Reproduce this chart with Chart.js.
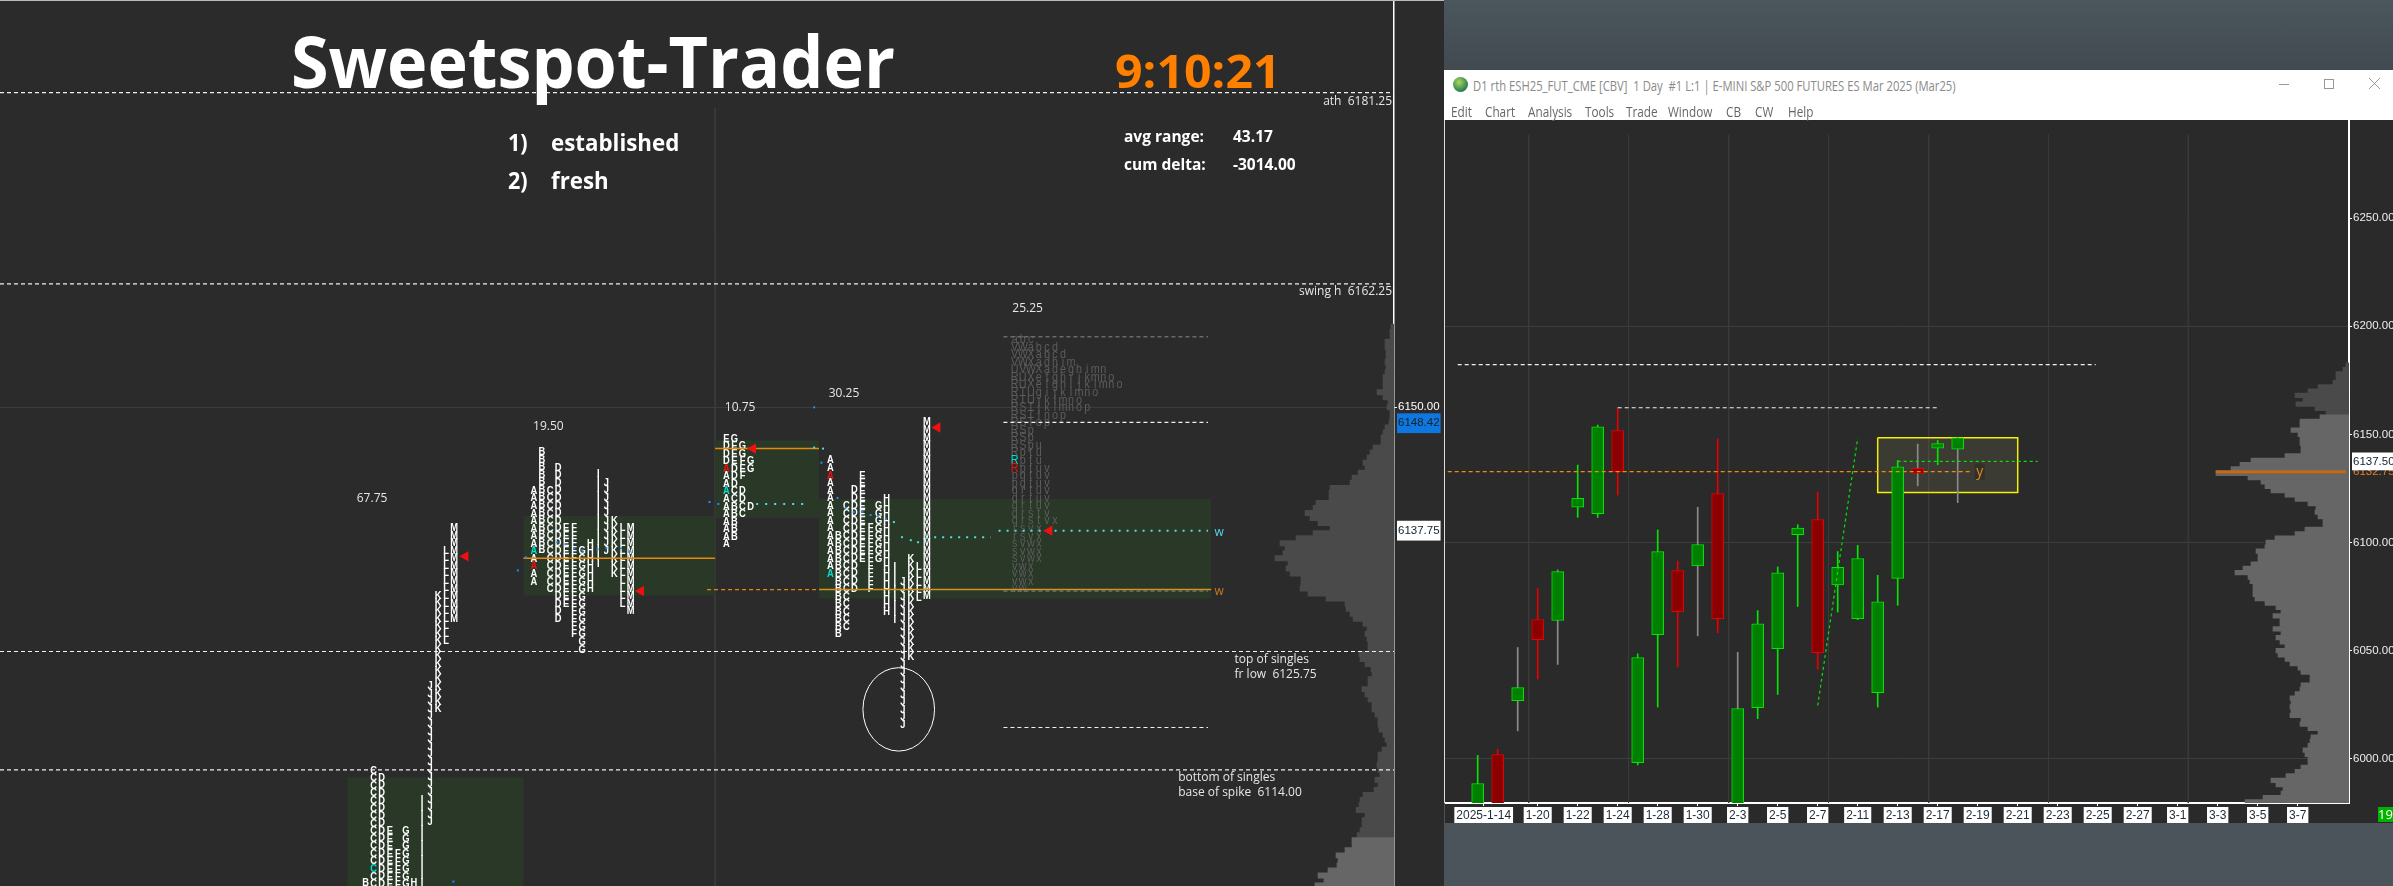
<!DOCTYPE html>
<html>
<head>
<meta charset="utf-8">
<script src="https://cdn.jsdelivr.net/npm/chart.js@4"></script>
<style>
html, body { margin: 0; padding: 0; width: 2393px; height: 886px; overflow: hidden; background: #4b535b; font-family: "Open Sans", sans-serif; }
div, canvas { position: absolute; }
#left { left: 0; top: 0; width: 1444px; height: 886px; background: #2b2b2b; }
#topline { left: 0; top: 0; width: 1444px; height: 1px; background: #bbb; }
#stripe { left: 1444px; top: 0; width: 949px; height: 70px; background: linear-gradient(#4b565d, #424a50); }
#win { left: 1444px; top: 70px; width: 949px; height: 50px; background: #fff; }
#winedge { left: 1444px; top: 120px; width: 1px; height: 683px; background: #ddd; }
#rightbg { left: 1445px; top: 120px; width: 948px; height: 703px; background: #2a2a2a; }
.txt { white-space: pre; line-height: 1; transform-origin: left center; color: #fff; }
.menu { top: 102px; font-size: 14px; color: #666; white-space: pre; transform: scaleX(.84); transform-origin: left center; }
</style>
</head>
<body>
<div id="left"></div>
<div id="stripe"></div>
<div id="win"></div>
<div id="rightbg"></div>
<div id="winedge"></div>
<canvas id="tpoChart" width="1444" height="886" style="left:0;top:0"></canvas>
<canvas id="dailyChart" width="948" height="703" style="left:1445px;top:120px"></canvas>
<div id="topline"></div>

<div class="txt" style="left:291px;top:25px;font-size:71px;font-weight:700;transform:scaleX(.962)">Sweetspot-Trader</div>
<div class="txt" style="left:1115px;top:47px;font-size:46px;font-weight:700;color:#ff7f00;transform:scaleX(1.05)">9:10:21</div>
<div class="txt" style="left:508px;top:130px;font-size:24px;font-weight:700;transform:scaleX(.9)">1)</div>
<div class="txt" style="left:551px;top:130px;font-size:24px;font-weight:700;transform:scaleX(.93)">established</div>
<div class="txt" style="left:508px;top:168px;font-size:24px;font-weight:700;transform:scaleX(.9)">2)</div>
<div class="txt" style="left:551px;top:168px;font-size:24px;font-weight:700;transform:scaleX(.93)">fresh</div>
<div class="txt" style="left:1124px;top:128px;font-size:16px;font-weight:700;transform:scaleX(.97)">avg range:</div>
<div class="txt" style="left:1233px;top:128px;font-size:16px;font-weight:700;transform:scaleX(.97)">43.17</div>
<div class="txt" style="left:1124px;top:156px;font-size:16px;font-weight:700;transform:scaleX(.97)">cum delta:</div>
<div class="txt" style="left:1233px;top:156px;font-size:16px;font-weight:700;transform:scaleX(.97)">-3014.00</div>

<div style="left:1453px;top:77px;width:15px;height:15px;border-radius:50%;background:radial-gradient(circle at 40% 35%, #a8d860, #3a8a50 60%, #1f4f7f)"></div>
<div class="menu" style="left:1473px;top:76px;color:#8a8a8a;font-size:14px;transform:scaleX(.804)">D1 rth ESH25_FUT_CME [CBV]  1 Day  #1 L:1 | E-MINI S&amp;P 500 FUTURES ES Mar 2025 (Mar25)</div>
<div class="menu" style="left:1451px">Edit</div>
<div class="menu" style="left:1485px">Chart</div>
<div class="menu" style="left:1528px">Analysis</div>
<div class="menu" style="left:1585px">Tools</div>
<div class="menu" style="left:1626px">Trade</div>
<div class="menu" style="left:1668px">Window</div>
<div class="menu" style="left:1726px">CB</div>
<div class="menu" style="left:1755px">CW</div>
<div class="menu" style="left:1788px">Help</div>
<div style="left:2279px;top:84px;width:10px;height:1px;background:#999"></div>
<div style="left:2324px;top:79px;width:8px;height:8px;border:1px solid #999"></div>
<svg style="position:absolute;left:2369px;top:78px" width="11" height="11"><path d="M0 0L11 11M11 0L0 11" stroke="#999" fill="none"/></svg>
<div class="txt" style="left:2378px;top:807px;width:15px;height:15px;background:#00b400;font-size:13px;line-height:15px">19</div>

<script>
// ---- market profile sessions: [letter, top price, rows]
const sessionOne = [["B",6102.75,3],["C",6113.9,17],["D",6113.2,16],["E",6107.9,9],["F",6105.6,6],["G",6107.9,9],["H",6102.75,2],["I",6111.0,13],["J",6122.3,19],["K",6131.27,16],["L",6135.76,13],["M",6138.0,13]];
const sessionTwo = [["A",6141.7,13],["B",6145.55,14],["C",6141.7,14],["D",6144.0,21],["E",6138.0,11],["F",6138.0,15],["G",6135.7,14],["H",6136.45,7],["I",6143.4,13],["J",6142.5,10],["K",6138.7,8],["L",6138.0,11],["M",6138.0,12]];
const sessionFour = [["A",6144.73,16],["B",6137.2,14],["C",6140.2,17],["D",6141.75,14],["E",6143.2,12],["F",6138.0,9],["G",6140.2,8],["H",6140.9,16],["I",6134.1,8],["J",6132.7,20],["K",6134.97,14],["L",6134.1,5],["M",6148.5,24]];
// packed sessions, one string per price row
const sessionThreeTop = 6146.9;
const sessionThree = ["EG","DEG","DEG","DEFG","ADEG","ADF","AD","ACD","ACD","ABCD","ABC","AB","AB","AB","A"];
const sessionFiveTop = 6156.7;
const sessionFive = ["abc","VWabcd","VWXabcd","VWXadhim","UVWXadeghimn","RUXefghijkmno","RUXefghijklmno","RTUgijklmno","RTUjklmno","RSTjklmnop","RSTlnop","RSTop","RSp","RSp","RSpu","Rptu","Rptu","Rptuv","pqtuv","pqtuv","qrtuv","qrtuv","qrtuv","qrstv","qrstvx","rsvx","rsvx","svwx","svwx","svwx","vwx","vwx","vwx","vw"];
const sessionColumns = [44.4, 66.3, 90.2, 103.1, 126];
// coloured open prints: session, letter, row
const cyanPrints = [[0,"C",13],[1,"A",8],[2,"A",7],[3,"A",15],[4,"R",16]];
const redPrints = [[1,"A",10],[2,"A",4],[3,"A",2],[4,"R",17]];

const valueAreas = [[43.1,65,6101,6113.24],[65,88.8,6131.3,6139.2],[88.8,101.7,6139,6146.74],[101.7,150.4,6131.0,6140.9]];
const fullLevels = [6181.25,6162.25,6125.75,6114];
const shortWhiteLevels = [6148.5,6118.2];
const shortGrayLevels = [6157,6131.75];
const redMarkers = [[57.8,6135.2],[79.6,6131.75],[93.5,6145.9],[116.4,6148],[130.3,6137.75]];
const blueDots = [[64.3,6133.8],[65.3,6135.1],[69.2,6136.6],[70.2,6136.4],[71.3,6136],[72.3,6135.8],[74.2,6135.9],[75.3,6136],[77.1,6136],[78.2,6135.7],[88.1,6140.6],[89.2,6140.4],[101.1,6150],[102,6144.5],[104,6141],[56.3,6102.9],[105,6140],[106,6139.6],[107.1,6139.6],[108.1,6139.3],[109,6139.2],[110,6138.9]];
const cyanDots = [[101.1,6146],[102.2,6145.9],[111,6138.6],[112,6137.1],[113.1,6136.8],[114,6136.6],[115,6137]];
const tpoTicks = [6150,6148.42,6137.75];
const rangeLabels = [["67.75",46.2,6140.9],["19.50",68.1,6148.1],["10.75",91.9,6150],["30.25",104.8,6151.4],["25.25",127.6,6159.8]];
const noteLabels = [["top of singles",153.3,6124.9],["fr low  6125.75",153.3,6123.45],["bottom of singles",146.3,6113.2],["base of spike  6114.00",146.3,6111.7]];
const edgeLabels = [["ath  6181.25",6180.4],["swing h  6162.25",6161.45]];

// composite volume next to the profile, from 6158 down in half points
const leftVolume = [3,4,4,9,9,8,8,9,8,9,11,11,11,17,11,6,7,4,4,5,9,11,13,13,21,24,27,31,29,36,42,44,64,65,65,78,81,89,84,76,64,81,98,114,109,111,119,106,108,104,93,93,94,86,68,49,48,44,41,31,27,29,27,26,26,35,34,29,23,22,26,26,32,29,26,22,22,19,16,16,15,11,9,7,12,16,16,17,16,14,19,16,20,31,34,35,38,29,32,32,34,37,42,42,49,58,56,57,66,76,70,79];
const leftLevels = leftVolume.map((v, i) => 6158 - i * 0.5);

// ---- daily chart
const candleOpen = [5964.9,6001.9,6026.8,6064.3,6063.9,6116.3,6113.3,6151.8,5998.1,6057.3,6087,6089.2,6122.6,5965,6023.6,6050.9,6103.6,6110.6,6080.4,6064.8,6030.5,6083.4,6134.3,6143.6,6143.1];
const candleHigh = [6001.5,6004.4,6051.4,6078.7,6087.3,6135.8,6154.3,6162.3,6048.5,6105.8,6091.4,6116.3,6147.9,6049.2,6068.5,6088.7,6108.2,6123.3,6095.8,6098.7,6084.8,6137.9,6145.5,6147.2,6148.7];
const candleLow = [5957.6,5957.6,6012.9,6036.8,6043.6,6111.6,6111.6,6121.9,5997.1,6023.9,6042.4,6056.8,6058.2,5958,6018.5,6029.7,6070.4,6041.4,6067.8,6064.3,6023.9,6070.9,6126.2,6136,6118.4];
const candleClose = [5988.5,5964.9,6032.9,6055.1,6086.5,6120.4,6153.5,6132.8,6046.8,6095.8,6068,6099,6064.8,6023.2,6062.4,6086,6106.7,6049,6088.5,6092.6,6072.6,6135,6131.9,6145.7,6148.4];
const grayWickDays = [2,4,11,13,22,24];
const dateTickSlots = [0.3,3,5,7,9,11,13,15,17,19,21,23,25,27,29,31,33,35,37,39,41];
const dateTickLabels = ["2025-1-14","1-20","1-22","1-24","1-28","1-30","2-3","2-5","2-7","2-11","2-13","2-17","2-19","2-21","2-23","2-25","2-27","3-1","3-3","3-5","3-7"];
const dailyTicks = [6250,6200,6150,6100,6050,6000,6132.75,6137.5];
const dailyGridTicks = [6200,6100,6000];
const dailyVerticals = [2.55,7.54,12.55,17.54,22.55,28.54,35.53];
const rightVolume = [3,6,13,13,16,31,41,54,46,53,34,23,29,49,49,58,51,49,49,48,48,64,98,109,118,133,101,88,84,78,64,54,41,33,34,31,26,26,44,54,74,83,84,93,91,91,98,106,114,101,99,96,96,96,94,84,73,68,76,69,69,76,68,73,69,64,73,71,64,59,51,48,39,39,48,49,54,59,58,59,58,59,48,49,41,31,38,39,41,46,44,41,41,48,54,63,78,73,66,68,86,104];
const rightLevels = rightVolume.map((v, i) => 6182 - i * 2);

const GREEN_LINE = "#00e600", RED_LINE = "#e60000";
const GREEN_BODY = "#008000", RED_BODY = "#8b0000";
const TEXT_FONT = '"Open Sans"';
const TICK_FONT = '"Liberation Sans"';

function segment(x0, y0, x1, y1, color, width, dash, order) {
    return { type: "scatter", showLine: true, pointRadius: 0, borderColor: color, borderWidth: width, borderDash: dash || [],
        data: [{x: x0, y: y0}, {x: x1, y: y1}], order: order === undefined ? 3 : order };
}
function box(x0, x1, lo, hi, fillColor, lineColor, order) {
    return { type: "scatter", showLine: true, pointRadius: 0, fill: "shape", backgroundColor: fillColor,
        borderColor: lineColor, borderWidth: lineColor === "transparent" ? 0 : 1.5,
        data: [{x: x0, y: hi}, {x: x1, y: hi}, {x: x1, y: lo}, {x: x0, y: lo}, {x: x0, y: hi}], order: order };
}
function dots(points, color, order) {
    return { type: "scatter", pointRadius: 1.4, pointStyle: "rect", backgroundColor: color, borderWidth: 0,
        data: points.map(p => ({x: p[0], y: p[1]})), order: order };
}
function volumeBars(levels, values, split, thick, above) {
    return { type: "bar", indexAxis: "y", xAxisID: "xVol", yAxisID: "y", grouped: false, barThickness: thick, borderWidth: 0, order: 30,
        backgroundColor: c => ((c.raw.y > split) === above ? "#4a4a4a" : "#666666"),
        data: values.map((v, i) => ({x: v, y: levels[i]})) };
}
function fixedTicks(list) {
    return s => { s.ticks = list.map(v => ({value: v})); };
}
// the labels must not push the plot area in
function noPadding(s) {
    s.paddingLeft = s.paddingRight = s.paddingTop = s.paddingBottom = 0;
}

const tpoPlugin = {
    id: "tpoText",
    afterDatasetDraw(chart, args) {
        if (chart.data.datasets[args.index].label !== "tpo") return;
        const ctx = chart.ctx, xs = chart.scales.x, ys = chart.scales.y;
        const printColor = (s, letter, row, base) => {
            if (cyanPrints.some(p => p[0] === s && p[1] === letter && p[2] === row)) return "#00e0d0";
            if (redPrints.some(p => p[0] === s && p[1] === letter && p[2] === row)) return "#f01010";
            return base;
        };
        const letter = (ch, col, price, squeeze) => {
            ctx.save();
            ctx.translate(xs.getPixelForValue(col), ys.getPixelForValue(price));
            ctx.scale(squeeze, 1);
            ctx.fillText(ch, 0, 0);
            ctx.restore();
        };
        ctx.save();
        ctx.textAlign = "center";
        ctx.textBaseline = "middle";
        ctx.font = "bold 11px " + TICK_FONT;
        [sessionOne, sessionTwo, null, sessionFour].forEach((session, s) => {
            if (!session) return;
            session.forEach(col => {
                const c = sessionColumns[s] + "ABCDEFGHIJKLM".indexOf(col[0]);
                for (let r = 0; r < col[2]; r++) {
                    ctx.fillStyle = printColor(s, col[0], r, "#ffffff");
                    letter(col[0], c, col[1] - r * 0.75, 0.85);
                }
            });
        });
        sessionThree.forEach((row, r) => {
            [...row].forEach((ch, c) => {
                ctx.fillStyle = printColor(2, ch, r, "#ffffff");
                letter(ch, sessionColumns[2] + c, sessionThreeTop - r * 0.75, 0.85);
            });
        });
        ctx.font = "12px " + TICK_FONT;
        sessionFive.forEach((row, r) => {
            [...row].forEach((ch, c) => {
                ctx.fillStyle = printColor(4, ch, r, "#5c5c5c");
                letter(ch, sessionColumns[4] + c, sessionFiveTop - r * 0.75, 0.9);
            });
        });
        ctx.restore();
    },
    afterDatasetsDraw(chart) {
        const ctx = chart.ctx, xs = chart.scales.x, ys = chart.scales.y;
        ctx.save();
        ctx.textBaseline = "middle";
        ctx.fillStyle = "#e6e6e6";
        ctx.font = "12px " + TEXT_FONT;
        ctx.textAlign = "center";
        rangeLabels.forEach(l => ctx.fillText(l[0], xs.getPixelForValue(l[1]), ys.getPixelForValue(l[2])));
        ctx.textAlign = "left";
        noteLabels.forEach(l => ctx.fillText(l[0], xs.getPixelForValue(l[1]), ys.getPixelForValue(l[2])));
        ctx.textAlign = "right";
        edgeLabels.forEach(l => ctx.fillText(l[0], xs.right - 2, ys.getPixelForValue(l[1])));
        ctx.textAlign = "left";
        ctx.fillStyle = "#4fd8e8";
        ctx.fillText("w", xs.getPixelForValue(150.8), ys.getPixelForValue(6137.6));
        ctx.fillStyle = "#d07818";
        ctx.fillText("w", xs.getPixelForValue(150.8), ys.getPixelForValue(6131.7));
        // the j-tail ellipse
        ctx.strokeStyle = "#ffffff";
        ctx.lineWidth = 1;
        ctx.beginPath();
        ctx.ellipse(xs.getPixelForValue(111.6), ys.getPixelForValue(6120), 35.8, 41.7, 0, 0, Math.PI * 2);
        ctx.stroke();
        ctx.restore();
    }
};

new Chart(document.getElementById("tpoChart"), {
    type: "scatter",
    plugins: [tpoPlugin],
    data: { datasets: [
        volumeBars(leftLevels, leftVolume, 6107.3, 5.3, true),
        ...valueAreas.map(a => box(a[0], a[1], a[2], a[3], "#2a3828", "transparent", 20)),
        segment(88.8, 6179.7, 88.8, 6102, "#3c3c3c", 1, [], 25),
        { label: "tpo", type: "scatter", data: [], order: 10 },
        ...fullLevels.map(p => segment(0, p, 173.1, p, "#f0f0f0", 1.2, [4, 3])),
        ...shortWhiteLevels.map(p => segment(124.6, p, 150, p, "#f0f0f0", 1.2, [4, 3])),
        ...shortGrayLevels.map(p => segment(124.6, p, 150, p, "#8a8a8a", 1, [4, 3])),
        segment(65, 6135, 88.8, 6135, "#e8880a", 1.5),
        segment(88.8, 6145.9, 101.7, 6145.9, "#e8880a", 1.5),
        segment(87.8, 6131.9, 101.7, 6131.9, "#e8880a", 1.2, [4, 3]),
        segment(101.7, 6131.9, 150.4, 6131.9, "#d8901e", 1.5),
        segment(93.9, 6140.4, 100.1, 6140.4, "#4fe0e0", 2, [2, 7]),
        segment(116, 6137.1, 123, 6137.1, "#4fe0e0", 2, [2, 6]),
        segment(124, 6137.75, 150, 6137.75, "#4fe0e0", 2, [2, 6]),
        dots(blueDots, "#1e90ff", 2),
        dots(cyanDots, "#4fe0e0", 2),
        { type: "scatter", pointStyle: "triangle", rotation: 270, radius: 6, backgroundColor: "#f01010", borderWidth: 0,
          data: redMarkers.map(p => ({x: p[0], y: p[1]})), order: 1 }
    ] },
    options: {
        responsive: false, animation: false, devicePixelRatio: 1,
        layout: { padding: 0, autoPadding: false },
        plugins: { legend: { display: false }, tooltip: { enabled: false } },
        scales: {
            x: { type: "linear", display: false, offset: false, min: 0, max: 173.1, grid: { offset: false } },
            xVol: { type: "linear", display: false, offset: false, reverse: true, min: 0, max: 1394 },
            y: {
                type: "linear", position: "right", min: 6102.46, max: 6190.45, offset: false,
                afterBuildTicks: fixedTicks(tpoTicks),
                afterFit: s => { s.width = 50; noPadding(s); },
                border: { color: "#ffffff", width: 1.5 },
                grid: { offset: false, color: c => (c.tick && c.tick.value === 6150 ? "#3c3c3c" : "transparent"),
                        tickColor: c => (c.tick && c.tick.value === 6150 ? "#ffffff" : "transparent"), tickLength: 3 },
                ticks: {
                    autoSkip: false, padding: 1, font: { family: TICK_FONT, size: 11.5 },
                    showLabelBackdrop: true,
                    backdropPadding: { x: 1, y: 3 },
                    backdropColor: c => (c.tick.value === 6148.42 ? "#0f78e0" : c.tick.value === 6137.75 ? "#ffffff" : "transparent"),
                    color: c => (c.tick.value === 6150 ? "#ffffff" : "#10202c"),
                    callback: v => v.toFixed(2)
                }
            }
        }
    }
});

const yLabelPlugin = {
    id: "yLabel",
    afterDatasetsDraw(chart) {
        const ctx = chart.ctx, x = chart.scales.x.getPixelForValue(25.1), y = chart.scales.y.getPixelForValue(6132.8);
        ctx.save();
        ctx.fillStyle = "#333029";
        ctx.fillRect(x - 5, y - 8, 10, 16);
        ctx.fillStyle = "#e08a20";
        ctx.font = "14px " + TEXT_FONT;
        ctx.textAlign = "center";
        ctx.textBaseline = "middle";
        ctx.fillText("y", x, y);
        ctx.restore();
    }
};

new Chart(document.getElementById("dailyChart"), {
    type: "bar",
    plugins: [yLabelPlugin],
    data: { datasets: [
        ...dailyVerticals.map(d => segment(d, 6288.6, d, 5979, "#3a3a3a", 1, [], 40)),
        volumeBars(rightLevels, rightVolume, 6158.5, 4.6, true),
        box(20, 27, 6123.1, 6148.4, "rgba(235,235,150,.09)", "#f2f200", 20),
        { type: "bar", grouped: false, barThickness: 1, order: 12, borderWidth: 0,
          backgroundColor: c => (grayWickDays.includes(c.dataIndex) ? "#8a8a8a" : candleClose[c.dataIndex] > candleOpen[c.dataIndex] ? GREEN_LINE : RED_LINE),
          data: candleHigh.map((h, i) => ({x: i, y: [candleLow[i], h]})) },
        { type: "bar", grouped: false, barThickness: 12, order: 11, borderWidth: 1, borderSkipped: false,
          backgroundColor: c => (candleClose[c.dataIndex] > candleOpen[c.dataIndex] ? GREEN_BODY : RED_BODY),
          borderColor: c => (candleClose[c.dataIndex] > candleOpen[c.dataIndex] ? GREEN_LINE : RED_LINE),
          data: candleOpen.map((o, i) => ({x: i, y: [o, candleClose[i]]})) },
        segment(-1, 6182.3, 30.9, 6182.3, "#f0f0f0", 1.2, [4, 3], 5),
        segment(7, 6162.3, 23, 6162.3, "#f0f0f0", 1.2, [4, 3], 5),
        segment(-1.5, 6132.8, 24.6, 6132.8, "#f08a10", 1.2, [4, 3], 5),
        segment(21, 6137.5, 28, 6137.5, GREEN_LINE, 1.2, [3, 3], 5),
        segment(17, 6024.6, 19, 6148.2, GREEN_LINE, 1.2, [3, 3], 5),
        segment(36.9, 6132.75, 43.4, 6132.75, "#c66a14", 3, [], 6)
    ] },
    options: {
        responsive: false, animation: false, devicePixelRatio: 1,
        layout: { padding: 0, autoPadding: false },
        plugins: { legend: { display: false }, tooltip: { enabled: false } },
        scales: {
            x: {
                type: "linear", position: "bottom", min: -1.635, max: 43.565, offset: false,
                afterBuildTicks: fixedTicks(dateTickSlots),
                afterFit: s => { s.height = 20; noPadding(s); },
                border: { color: "#ffffff", width: 2 },
                grid: { offset: false, drawOnChartArea: false, tickColor: "#ffffff", tickLength: 3 },
                ticks: {
                    autoSkip: false, maxRotation: 0, padding: 2, color: "#1c2a38", font: { family: TICK_FONT, size: 12 },
                    showLabelBackdrop: true, backdropColor: "#ffffff", backdropPadding: { x: 2, y: 1 },
                    callback: (v, i) => dateTickLabels[i]
                }
            },
            xVol: { type: "linear", display: false, offset: false, reverse: true, min: 0, max: 904 },
            y: {
                type: "linear", position: "right", min: 5979.5, max: 6295.4, offset: false,
                afterBuildTicks: fixedTicks(dailyTicks),
                afterFit: s => { s.width = 44; noPadding(s); },
                border: { color: "#ffffff", width: 2 },
                grid: { offset: false, color: c => (c.tick && dailyGridTicks.includes(c.tick.value) ? "#3e3e3e" : "transparent"),
                        tickColor: c => (c.tick && c.tick.value % 50 === 0 ? "#ffffff" : "transparent"), tickLength: 3 },
                ticks: {
                    autoSkip: false, padding: 1, font: { family: TICK_FONT, size: 11.5 },
                    showLabelBackdrop: true, backdropPadding: { x: 1, y: 2 },
                    backdropColor: c => (c.tick.value === 6137.5 ? "#ffffff" : "transparent"),
                    color: c => (c.tick.value === 6137.5 ? "#10202c" : c.tick.value === 6132.75 ? "#e08020" : "#eeeeee"),
                    callback: v => v.toFixed(2)
                }
            }
        }
    }
});
</script>
</body>
</html>
